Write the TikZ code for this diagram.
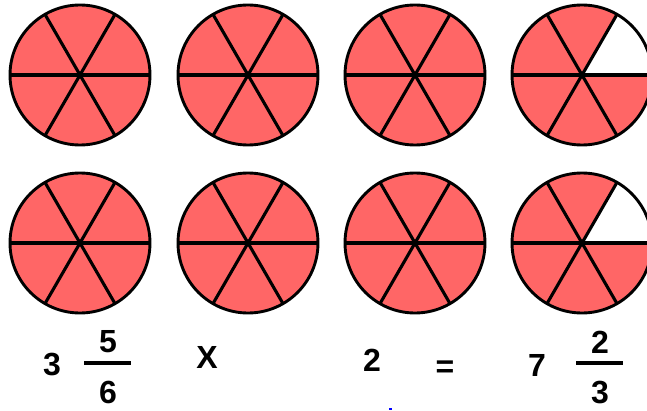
\documentclass[tikz,border=0pt]{standalone}
\usepackage{fontspec}
\setmainfont{Liberation Sans}
\usetikzlibrary{calc}
\begin{document}
\begin{tikzpicture}[x=1pt,y=1pt,
  piefill/.style={fill={rgb,255:red,255;green,102;blue,102}},
  spoke/.style={draw=black,line width=3.1pt},
  rim/.style={draw=black,line width=2.9pt},
  num/.style={font=\fontsize{32}{34}\selectfont\bfseries,inner sep=0pt},
  fracbar/.style={draw=black,line width=3.6pt}]
\useasboundingbox (0,0) rectangle (647,410);
\clip (0,0) rectangle (647,410);
\foreach \cy [count=\r] in {335,167}{
  \foreach \cx/\full [count=\c] in {80/1,248/1,415/1,582/0}{
    \coordinate (c\r\c) at (\cx,\cy);
    \ifnum\full=1
      \fill[piefill] (c\r\c) circle[radius=70];
    \else
      \fill[piefill] (c\r\c) -- ++(60:70) arc[start angle=60,end angle=360,radius=70] -- cycle;
    \fi
    \draw[spoke] ($(c\r\c)+(180:70)$) -- ($(c\r\c)+(0:70)$);
    \draw[spoke] ($(c\r\c)+(120:70)$) -- ($(c\r\c)+(300:70)$);
    \draw[spoke] ($(c\r\c)+(60:70)$) -- ($(c\r\c)+(240:70)$);
    \draw[rim] (c\r\c) circle[radius=70];
  }
}
\node[num] (w1) at (52,45) {3};
\node[num] (n1) at (108,68) {5};
\coordinate (b1l) at (84,47);
\coordinate (b1r) at (131,47);
\draw[fracbar] (b1l) -- (b1r);
\node[num] (d1) at (108,18) {6};
\node[num] (times) at (207,53) {X};
\node[num] (two) at (372,50) {2};
\node[num] (eq) at (445,41) {=};
\node[num] (w2) at (537,45) {7};
\node[num] (n2) at (600,68) {2};
\coordinate (b2l) at (576,47);
\coordinate (b2r) at (623,47);
\draw[fracbar] (b2l) -- (b2r);
\node[num] (d2) at (600,17) {3};
\fill[blue] (389,0) rectangle (392,2);
\end{tikzpicture}
\end{document}
